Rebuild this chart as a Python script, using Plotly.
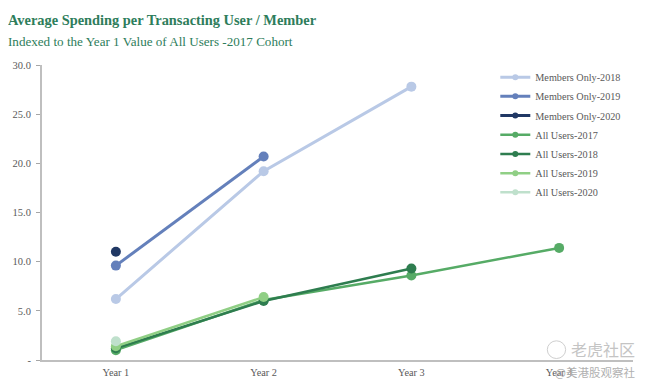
import plotly.graph_objects as go

categories = ["Year 1", "Year 2", "Year 3", "Year 4"]
members_2018 = [6.2, 19.2, 27.8]
members_2019 = [9.6, 20.7]
members_2020 = [11.0]
users_2017 = [1.0, 6.1, 8.6, 11.4]
users_2018 = [1.2, 6.0, 9.3]
users_2019 = [1.4, 6.4]
users_2020 = [1.9]
y_ticks = [0, 5, 10, 15, 20, 25, 30]
y_labels = ["-", "5.0", "10.0", "15.0", "20.0", "25.0", "30.0"]

series = [
    ("Members Only-2018", members_2018, "#b9c9e6", 3),
    ("Members Only-2019", members_2019, "#6480bb", 3),
    ("Members Only-2020", members_2020, "#203864", 3),
    ("All Users-2017", users_2017, "#56ab66", 2.5),
    ("All Users-2018", users_2018, "#2e7d4f", 2.5),
    ("All Users-2019", users_2019, "#90cf85", 2.5),
    ("All Users-2020", users_2020, "#bfe0cc", 2.5),
]

FONT = "Liberation Serif"
fig = go.Figure()
for name, vals, color, w in series:
    fig.add_trace(go.Scatter(
        x=categories[:len(vals)], y=vals, name=name, legendgroup=name,
        mode="lines+markers", showlegend=False,
        line=dict(color=color, width=w),
        marker=dict(color=color, size=10),
    ))
    # legend key with the smaller marker of the reference
    fig.add_trace(go.Scatter(
        x=[None], y=[None], name=name, legendgroup=name,
        mode="lines+markers", showlegend=True,
        line=dict(color=color, width=w),
        marker=dict(color=color, size=6),
    ))

fig.update_layout(
    width=641, height=378,
    margin=dict(l=34, r=16, t=57, b=26),
    paper_bgcolor="white", plot_bgcolor="white",
    font=dict(family=FONT, size=10, color="#595959"),
    showlegend=True,
    legend=dict(
        x=0.767, y=1.008, xanchor="left", yanchor="top",
        tracegroupgap=0.2, itemwidth=30, bgcolor="rgba(0,0,0,0)",
        font=dict(family=FONT, size=10.2, color="#595959"),
    ),
    xaxis=dict(
        type="category", categoryorder="array", categoryarray=categories,
        range=[-0.5, 3.5], showgrid=False, zeroline=False,
        showline=True, linecolor="#bfbfbf", linewidth=2,
        ticks="", tickfont=dict(family=FONT, size=10.3, color="#595959"),
        ticklabelstandoff=2, automargin=False,
    ),
    yaxis=dict(
        range=[0, 30], tickvals=y_ticks, ticktext=y_labels,
        showgrid=False, zeroline=False,
        showline=True, linecolor="#bfbfbf", linewidth=2,
        ticks="outside", ticklen=4, tickcolor="#a6a6a6", tickwidth=1,
        tickfont=dict(family=FONT, size=10.5, color="#595959"),
        ticklabelstandoff=3, automargin=False,
    ),
    annotations=[
        dict(text="<b>Average Spending per Transacting User / Member</b>",
             xref="paper", yref="paper", x=-0.061, y=1.154, xanchor="left", yanchor="middle",
             showarrow=False, font=dict(family=FONT, size=14.4, color="#2e7d5b")),
        dict(text="Indexed to the Year 1 Value of All Users -2017 Cohort",
             xref="paper", yref="paper", x=-0.061, y=1.078, xanchor="left", yanchor="middle",
             showarrow=False, font=dict(family=FONT, size=13.1, color="#2e7d5b")),
        dict(text="老虎社区",
             xref="paper", yref="paper", x=1.007, y=0.037, xanchor="right", yanchor="middle",
             showarrow=False, font=dict(family="Noto Sans CJK SC", size=16, color="#c4c4c4")),
        dict(text="@美港股观察社",
             xref="paper", yref="paper", x=1.007, y=-0.041, xanchor="right", yanchor="middle",
             showarrow=False, font=dict(family="Noto Sans CJK SC", size=11.5, color="#b0b0b0")),
    ],
    shapes=[
        dict(type="circle", xref="paper", yref="paper",
             x0=0.855, x1=0.886, y0=0.005, y1=0.065,
             line=dict(color="#cfcfcf", width=1), fillcolor="rgba(0,0,0,0)"),
    ],
)
fig.write_html("out.html")
